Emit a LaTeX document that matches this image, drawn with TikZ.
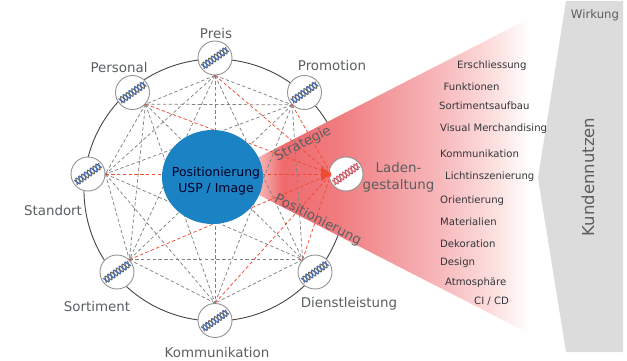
\documentclass[tikz,border=0pt]{standalone}
\usepackage{fontspec}
\setmainfont{DejaVu Sans}
\usetikzlibrary{shapes.geometric}
\definecolor{ringc}{HTML}{444444}
\definecolor{dashgray}{HTML}{828282}
\definecolor{dashred}{HTML}{F04A30}
\definecolor{blueball}{HTML}{1B82C4}
\definecolor{labelc}{HTML}{5A5F62}
\definecolor{itemc}{HTML}{33363A}
\definecolor{panel}{HTML}{DCDCDC}
\definecolor{coneA}{HTML}{F7B5B6}
\definecolor{coneB}{HTML}{EF6A6D}
\definecolor{coneC}{HTML}{F07C7F}
\definecolor{coneD}{HTML}{F7B7BA}
\definecolor{coneE}{HTML}{FDE3E3}
\definecolor{dnaA}{HTML}{4A6CB0}
\definecolor{dnaB}{HTML}{6E6A58}
\definecolor{dnaC}{HTML}{D9707A}
\definecolor{dnaD}{HTML}{B8505A}
\pgfdeclarehorizontalshading{coneshade}{100bp}{color(0bp)=(coneA); color(25.7bp)=(coneA); color(30bp)=(coneB); color(40bp)=(coneC); color(58bp)=(coneD); color(69bp)=(coneE); color(74.5bp)=(white); color(100bp)=(white)}
\newcommand{\dnahelix}[3]{%
  \begin{scope}[shift={(#1)},rotate=35]
    \draw[#3,line width=1.1pt] plot[domain=-15:15,samples=60,smooth] (\x,{3.3*sin(\x*52+180)});
    \draw[#2,line width=1.3pt] plot[domain=-15:15,samples=60,smooth] (\x,{3.3*sin(\x*52)});
  \end{scope}}
\tikzset{
  hub/.style={circle,draw=gray!85,line width=0.9pt,fill=white,minimum size=34pt,inner sep=0pt},
  lab/.style={text=labelc,font=\fontsize{13.4}{15}\selectfont,inner sep=0pt},
  item/.style={text=itemc,font=\fontsize{10.1}{12}\selectfont,inner sep=0pt,anchor=west},
  gline/.style={draw=dashgray,line width=0.75pt,dash pattern=on 3.4pt off 2.4pt},
  rline/.style={draw=dashred,line width=0.75pt,dash pattern=on 3.4pt off 2.4pt}
}
\begin{document}
\begin{tikzpicture}[x=1pt,y=-1pt]
\useasboundingbox (0,0) rectangle (627,361);
% panel
\fill[panel] (566,1) -- (623,1) -- (623,352) -- (566,352) -- (538,178) -- cycle;
\node[text=labelc,font=\fontsize{11.7}{13}\selectfont,inner sep=0pt] (wirkung) at (595,15) {Wirkung};
\node[text=labelc,font=\fontsize{16.5}{18}\selectfont,inner sep=0pt,rotate=90] (nutzen) at (588,177) {Kundennutzen};
% ring
\draw[ringc,line width=0.9pt] (215,190) circle[radius=131];
% cone
\shade[shading=coneshade] (255,159) -- (532,17) -- (532,335) -- (255,193) -- cycle;
% hubs
\node[hub] (preis) at (215,58) {};
\node[hub] (personal) at (132.5,92.5) {};
\node[hub] (promotion) at (304.5,92.5) {};
\node[hub] (standort) at (88,174) {};
\node[hub] (sortiment) at (117,272) {};
\node[hub] (dienst) at (315,272) {};
\node[hub] (komm) at (215,320.5) {};
\node[hub] (laden) at (346,174) {};
\coordinate (a) at (preis.-90);
\coordinate (b) at (personal.-42);
\coordinate (c) at (promotion.-135);
\coordinate (d) at (standort.0);
\coordinate (e) at (sortiment.45);
\coordinate (f) at (dienst.135);
\coordinate (g) at (komm.90);
\foreach \p/\q in {a/b,a/c,a/d,a/e,a/f,a/g,b/c,b/d,b/e,b/f,b/g,c/d,c/e,c/f,c/g,d/e,d/f,d/g,e/f,e/g,f/g}
  \draw[gline] (\p) -- (\q);
\coordinate (tip) at (331,174);
\foreach \p in {a,b,c,d,e,f,g}
  \draw[rline] (\p) -- (tip);
\fill[dashred] (tip) -- ++(-10,-7) -- ++(0,14) -- cycle;
% helices
\foreach \n in {preis,personal,promotion,standort,sortiment,dienst,komm}
  {\dnahelix{\n}{dnaA}{dnaB}}
\dnahelix{laden}{dnaC}{dnaD}
% centre
\node[ellipse,fill=blueball,minimum width=101pt,minimum height=94pt,inner sep=0pt] (core) at (212.5,177) {};
\node[text=black!85!blue,font=\fontsize{12.4}{16}\selectfont,inner sep=0pt,align=center] (coretext) at (216,181) {Positionierung\\USP / Image};
% labels
\node[lab] (l1) at (216,34) {Preis};
\node[lab] (l2) at (119,68) {Personal};
\node[lab] (l3) at (332,66) {Promotion};
\node[lab] (l4) at (53,211) {Standort};
\node[lab] (l5) at (97,307) {Sortiment};
\node[lab] (l6) at (349,304) {Dienstleistung};
\node[lab] (l7) at (217,353) {Kommunikation};
\node[lab,rotate=27] (l8) at (303,144) {Strategie};
\node[lab,rotate=-27] (l9) at (318,220) {Positionierung};
\node[lab,align=center,font=\fontsize{13.4}{17}\selectfont] (l10) at (398.5,177) {Laden-\\gestaltung};
% items
\node[item] (i1) at (457,65.5) {Erschliessung};
\node[item] (i2) at (443.5,86.5) {Funktionen};
\node[item] (i3) at (439,105.5) {Sortimentsaufbau};
\node[item] (i4) at (440,128.5) {Visual Merchandising};
\node[item] (i5) at (440,153.5) {Kommunikation};
\node[item] (i6) at (445,176.5) {Lichtinszenierung};
\node[item] (i7) at (440,200.5) {Orientierung};
\node[item] (i8) at (440,221.5) {Materialien};
\node[item] (i9) at (440,243.5) {Dekoration};
\node[item] (i10) at (440,262.5) {Design};
\node[item] (i11) at (445,282.5) {Atmosphäre};
\node[item] (i12) at (474,301.5) {CI / CD};
\end{tikzpicture}
\end{document}
